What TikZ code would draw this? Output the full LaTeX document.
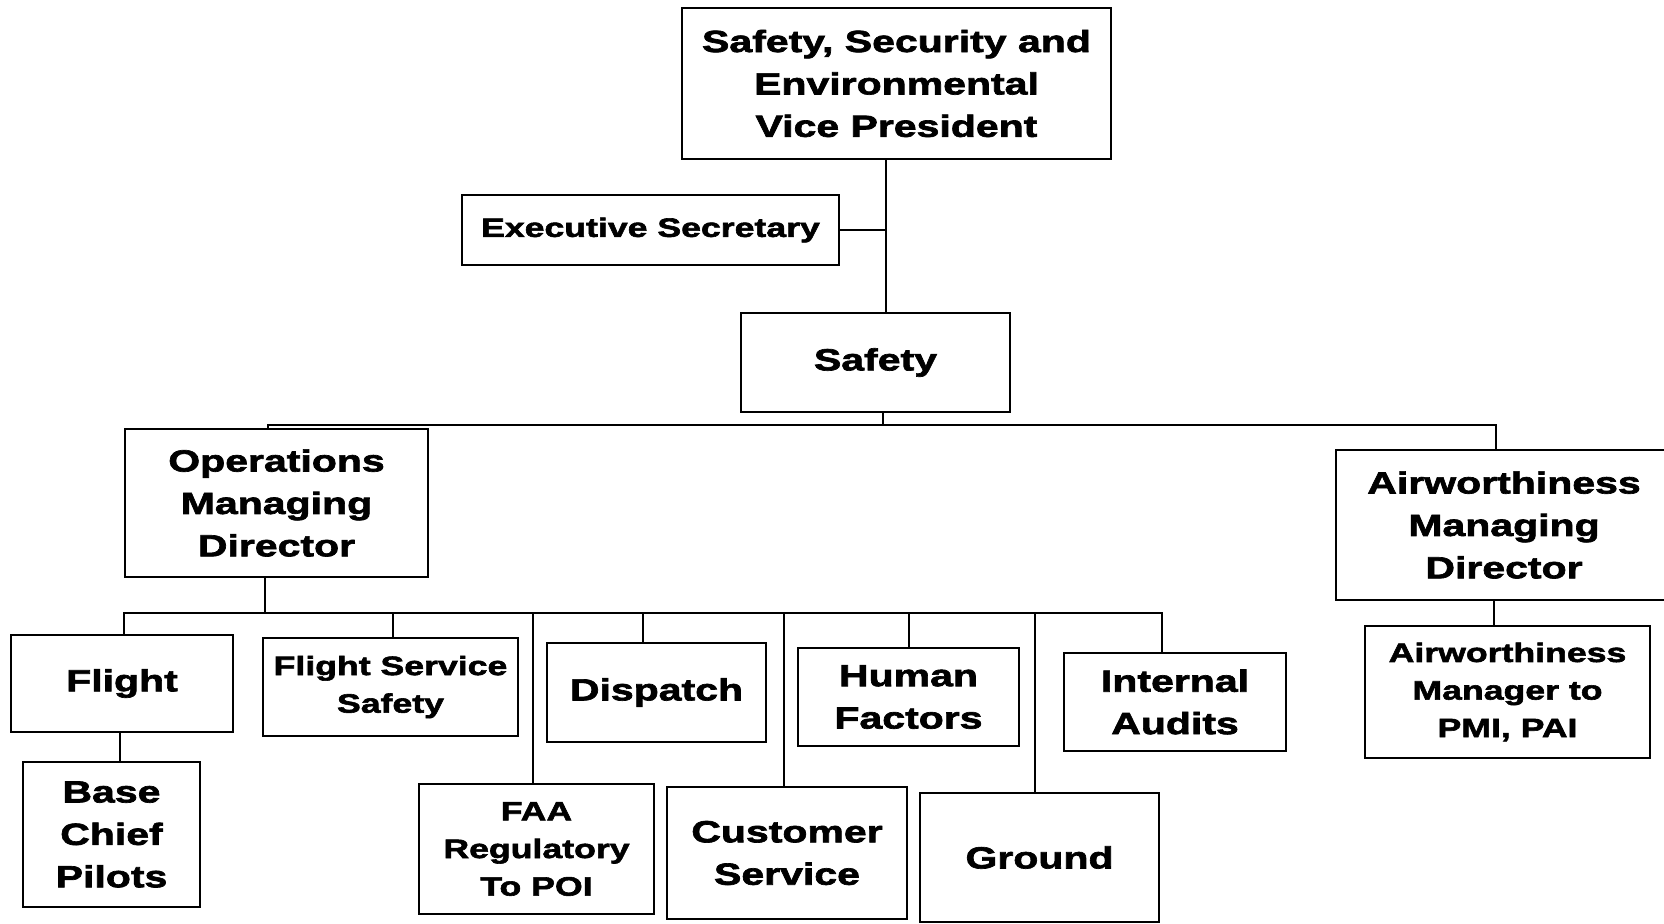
\documentclass[tikz,border=0pt]{standalone}
\usepackage{fontspec}
\newfontfamily\orgfont{Liberation Sans}[FakeStretch=1.34, BoldFeatures={FakeStretch=1.34, FakeBold=2.2}]
\tikzset{
  orgbox/.style={draw, line width=1.3pt, align=center, inner sep=0pt,
    font=\orgfont\bfseries\fontsize{15.3}{21.2}\selectfont},
  smalltext/.style={font=\orgfont\bfseries\fontsize{13.3}{18.8}\selectfont},
  link/.style={line width=1pt}
}
\begin{document}
\begin{tikzpicture}[x=0.5pt, y=-0.5pt]
\fill[white] (0,0) rectangle (1664,924);
\useasboundingbox (0,0) rectangle (1664,924);

\node[orgbox, minimum width=214.5pt, minimum height=75.5pt] (vp) at (896.5,83.5) {Safety, Security and\\Environmental\\Vice President};
\node[orgbox, smalltext, minimum width=188.5pt, minimum height=35pt] (sec) at (650.5,230) {Executive Secretary};
\node[orgbox, minimum width=134.5pt, minimum height=49.5pt] (safety) at (875.5,362.5) {Safety};
\node[orgbox, minimum width=151.5pt, minimum height=74pt] (ops) at (276.5,503) {Operations\\Managing\\Director};
\node[orgbox, minimum width=168pt, minimum height=75pt] (air) at (1504,525) {Airworthiness\\Managing\\Director};
\node[orgbox, minimum width=111pt, minimum height=48.5pt] (flight) at (122,683.5) {Flight};
\node[orgbox, minimum width=88.5pt, minimum height=72.5pt] (base) at (111.5,834.5) {Base\\Chief\\Pilots};
\node[orgbox, smalltext, minimum width=127.5pt, minimum height=49pt] (fss) at (390.5,687) {Flight Service\\Safety};
\node[orgbox, minimum width=109.5pt, minimum height=49.5pt] (disp) at (656.5,692.5) {Dispatch};
\node[orgbox, minimum width=110.5pt, minimum height=49pt] (hf) at (908.5,697) {Human\\Factors};
\node[orgbox, minimum width=111pt, minimum height=49pt] (ia) at (1175,702) {Internal\\Audits};
\node[orgbox, smalltext, minimum width=117.5pt, minimum height=65pt] (faa) at (536.5,849) {FAA\\Regulatory\\To POI};
\node[orgbox, minimum width=120pt, minimum height=66pt] (cs) at (787,853) {Customer\\Service};
\node[orgbox, minimum width=119.5pt, minimum height=64.5pt] (ground) at (1039.5,857.5) {Ground};
\node[orgbox, smalltext, minimum width=142.5pt, minimum height=66pt] (am) at (1507.5,692) {Airworthiness\\Manager to\\PMI, PAI};

% top spine
\coordinate (sp) at (886,0);
\draw[link] (vp.south -| sp) -- (safety.north -| sp);
\draw[link] (sec.east) -- (sec.east -| sp);

% level 1 bus
\coordinate (b0) at (883,425);
\coordinate (bl) at (268,425);
\coordinate (br) at (1496,425);
\draw[link] (safety.south -| b0) -- (b0);
\draw[link] (ops.north -| bl) -- (bl) -- (br) -- (air.north -| br);

% operations bus
\coordinate (c0) at (265,613);
\coordinate (cl) at (124,613);
\coordinate (cr) at (1162,613);
\draw[link] (ops.south -| c0) -- (c0);
\draw[link] (flight.north -| cl) -- (cl) -- (cr) -- (ia.north -| cr);
\coordinate (dfss) at (393,613);
\coordinate (dfaa) at (533,613);
\coordinate (ddisp) at (643,613);
\coordinate (dcs) at (784,613);
\coordinate (dhf) at (909,613);
\coordinate (dgr) at (1035,613);
\draw[link] (dfss) -- (dfss |- fss.north);
\draw[link] (dfaa) -- (dfaa |- faa.north);
\draw[link] (ddisp) -- (ddisp |- disp.north);
\draw[link] (dcs) -- (dcs |- cs.north);
\draw[link] (dhf) -- (dhf |- hf.north);
\draw[link] (dgr) -- (dgr |- ground.north);

% sub links
\coordinate (fb) at (120,0);
\draw[link] (flight.south -| fb) -- (base.north -| fb);
\coordinate (aa) at (1494,0);
\draw[link] (air.south -| aa) -- (am.north -| aa);
\end{tikzpicture}
\end{document}
